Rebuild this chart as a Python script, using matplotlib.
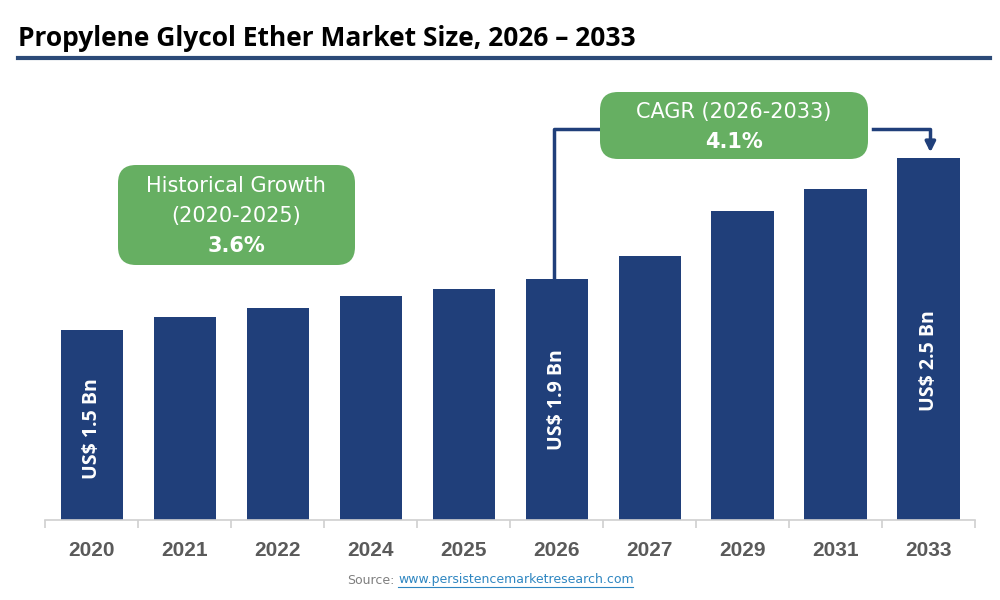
import matplotlib
matplotlib.use("Agg")
import matplotlib.pyplot as plt
from matplotlib.patches import FancyBboxPatch
import numpy as np

years = ["2020", "2021", "2022", "2024", "2025", "2026", "2027", "2029", "2031", "2033"]
# bar heights (US$ Bn scale set by the 2020 / 2026 labels)
values = [1.50, 1.60, 1.67, 1.77, 1.82, 1.90, 2.08, 2.44, 2.61, 2.86]
bar_labels = {0: "US$ 1.5 Bn", 5: "US$ 1.9 Bn", 9: "US$ 2.5 Bn"}
label_frac = {0: 0.48, 5: 0.50, 9: 0.44}
title = "Propylene Glycol Ether Market Size, 2026 \u2013 2033"
hist_text = ["Historical Growth", "(2020-2025)", "3.6%"]
cagr_text = ["CAGR (2026-2033)", "4.1%"]

navy = "#203F7A"
green = "#66AF62"
W, H = 1000, 600

fig = plt.figure(figsize=(10, 6), dpi=100)
fig.set_facecolor("w")

def fx(px):
    return px / W

def fy(py):
    return 1 - py / H

ax = fig.add_axes([fx(45), fy(520), fx(975) - fx(45), fy(80) - fy(520)])
x = np.arange(len(years))
ax.bar(x, values, width=0.67, color=navy, zorder=2)
ax.set_xlim(-0.505, 9.495)
ax.set_ylim(0, 440 / 126.7)
ax.set_yticks([])
for s in ["top", "right", "left"]:
    ax.spines[s].set_visible(False)
ax.spines["bottom"].set_color("#D0D0D0")
ax.spines["bottom"].set_linewidth(1.2)
ax.set_xticks(x)
ax.set_xticklabels(years, fontsize=15, fontweight="bold", color="#5A5A5A",
                   family="Liberation Sans")
ax.tick_params(axis="x", length=0, pad=15)
ax.set_xticks(np.arange(-0.5, 10, 1), minor=True)
ax.tick_params(axis="x", which="minor", length=6, color="#D0D0D0", width=1.2)

for i, lab in bar_labels.items():
    ax.text(i, values[i] * label_frac[i], lab, rotation=90, ha="center", va="center",
            color="white", fontsize=14, fontweight="bold", family="Open Sans")

# title and rule
fig.text(fx(18), fy(38), title, fontsize=19, fontweight="bold", family="Open Sans",
         ha="left", va="center", color="black")
fig.add_artist(plt.Line2D([fx(18), fx(990)], [fy(58), fy(58)], color="#2C4A78", lw=3))

def rbox(x0, y0, x1, y1, r=18):
    p = FancyBboxPatch((fx(x0 + r), fy(y1 - r)), fx(x1 - x0 - 2 * r), fy(y0 + r) - fy(y1 - r),
                       boxstyle="round,pad=%f" % fx(r), transform=fig.transFigure,
                       mutation_aspect=W / H, facecolor=green, edgecolor="none", zorder=5)
    fig.add_artist(p)

rbox(118, 165, 355, 265)
fig.text(fx(236), fy(186), hist_text[0], fontsize=15, color="white", ha="center", va="center", zorder=6)
fig.text(fx(236), fy(216), hist_text[1], fontsize=15, color="white", ha="center", va="center", zorder=6)
fig.text(fx(236), fy(246), hist_text[2], fontsize=15, color="white", ha="center", va="center",
         fontweight="bold", zorder=6)

# connector from 2026 bar to 2033 bar
ly = (520 - 129) / 126.7
ax.plot([4.97, 4.97, 5.5], [values[5], ly, ly], color=navy, lw=2.5, clip_on=False, zorder=3)
ax.plot([8.4, 9.02, 9.02], [ly, ly, values[9] + 0.12], color=navy, lw=2.5, clip_on=False, zorder=3)
ax.annotate("", xy=(9.02, values[9] + 0.02), xytext=(9.02, values[9] + 0.13),
            arrowprops=dict(arrowstyle="-|>,head_length=0.6,head_width=0.3", color=navy, lw=2.5),
            annotation_clip=False)

rbox(600, 92, 868, 159)
fig.text(fx(734), fy(112), cagr_text[0], fontsize=15, color="white", ha="center", va="center", zorder=6)
fig.text(fx(734), fy(142), cagr_text[1], fontsize=15, color="white", ha="center", va="center",
         fontweight="bold", zorder=6)

# source
fig.text(fx(394), fy(580), "Source:", fontsize=9, color="#7F7F7F", ha="right", va="center")
fig.text(fx(398), fy(580), "www.persistencemarketresearch.com", fontsize=9, color="#2E86C1",
         ha="left", va="center")
fig.add_artist(plt.Line2D([fx(398), fx(633)], [fy(587), fy(587)], color="#2E86C1", lw=0.8))

fig.savefig("out.png", dpi=100)
